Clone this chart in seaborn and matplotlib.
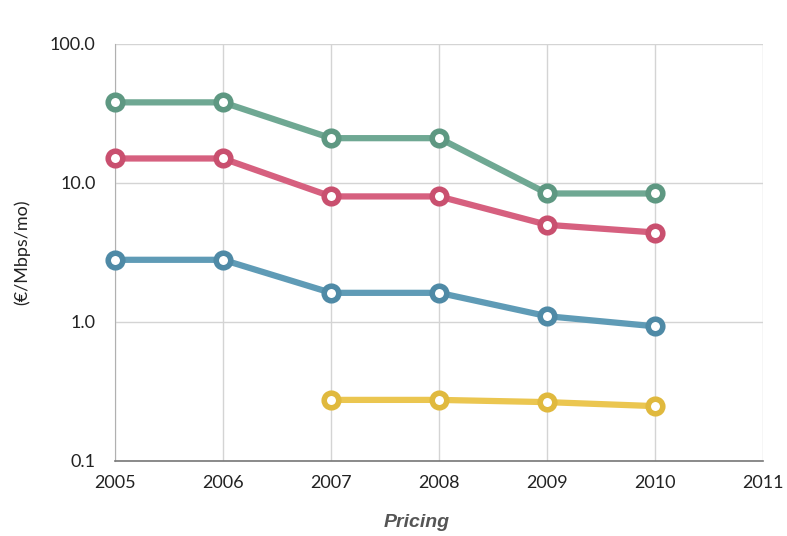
import matplotlib
matplotlib.use("Agg")
import matplotlib.pyplot as plt
import seaborn as sns
import pandas as pd
import numpy as np

years = [2005, 2006, 2007, 2008, 2009, 2010]
green = [38.0, 38.0, 21.0, 21.0, 8.4, 8.4]
red = [15.0, 15.0, 8.0, 8.0, 5.0, 4.4]
blue = [2.8, 2.8, 1.62, 1.62, 1.1, 0.93]
yellow_years = [2007, 2008, 2009, 2010]
yellow = [0.275, 0.275, 0.265, 0.248]

series_names = ["A", "B", "C", "D"]
colors = {"A": "#6fa893", "B": "#d6607f", "C": "#5f9bb6", "D": "#ebc650"}
edge_colors = {"A": "#5e9882", "B": "#c9506f", "C": "#4f8aa6", "D": "#e0b93e"}

ytick_vals = [0.1, 1.0, 10.0, 100.0]
ytick_labels = ["0.1", "1.0", "10.0", "100.0"]
xtick_vals = [2005, 2006, 2007, 2008, 2009, 2010, 2011]

rows = []
for name, xs, ys in [("A", years, green), ("B", years, red), ("C", years, blue), ("D", yellow_years, yellow)]:
    for x, y in zip(xs, ys):
        rows.append({"year": x, "value": y, "series": name})
df = pd.DataFrame(rows)

sns.set_style("white")
plt.rcParams['font.family'] = ['Lato', 'DejaVu Sans']

fig = plt.figure(figsize=(7.87, 5.36), dpi=100)
ax = fig.add_axes([0.146, 0.140, 0.824, 0.778])

sns.lineplot(data=df, x="year", y="value", hue="series", palette=colors,
             linewidth=4.5, marker="o", markersize=10.5, markerfacecolor="white",
             markeredgewidth=4.0, legend=False, ax=ax, zorder=3)
for line, name in zip(ax.get_lines(), series_names):
    line.set_markeredgecolor(edge_colors[name])
    line.set_clip_on(False)

ax.set_yscale("log")
ax.set_ylim(0.1, 100)
ax.set_xlim(2005, 2011)
ax.set_yticks(ytick_vals)
ax.set_yticklabels(ytick_labels)
ax.yaxis.set_minor_locator(matplotlib.ticker.NullLocator())
ax.set_xticks(xtick_vals)
ax.set_xticklabels([str(v) for v in xtick_vals])

ax.grid(True, which="major", color="#d4d4d4", linewidth=1.0, zorder=0)
ax.set_axisbelow(True)
for s in ["top", "right"]:
    ax.spines[s].set_visible(False)
ax.spines["left"].set_color("#b0b0b0")
ax.spines["bottom"].set_color("#777777")
ax.spines["bottom"].set_linewidth(1.2)
ax.tick_params(axis="both", labelsize=13, colors="#222222", length=0, pad=10)
ax.tick_params(axis="y", pad=14)

ax.set_xlabel("")
ax.set_ylabel("(€/Mbps/mo)", fontsize=13, color="#222222")
ax.yaxis.set_label_coords(-0.13, 0.5)

fig.text(0.53, 0.025, "Pricing", fontsize=14, fontweight="bold", fontstyle="italic",
         color="#555555", ha="center", va="center", family=["Liberation Sans", "DejaVu Sans"])

fig.savefig("out.png", dpi=100, facecolor="white")
